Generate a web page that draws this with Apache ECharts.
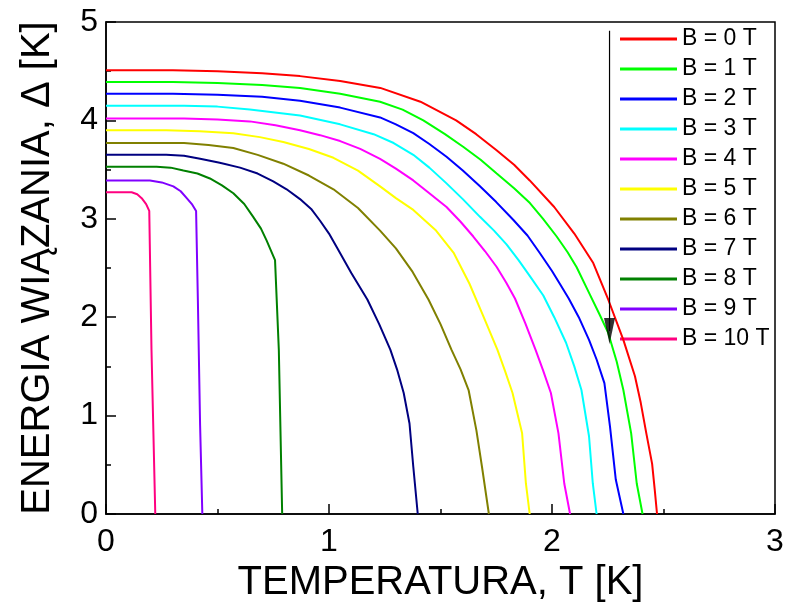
<!DOCTYPE html>
<html>
<head>
<meta charset="utf-8">
<script src="https://cdn.jsdelivr.net/npm/echarts@6/dist/echarts.min.js"></script>
<style>
  html, body { margin: 0; padding: 0; background: #ffffff; }
  #chart { width: 787px; height: 614px; }
</style>
</head>
<body>
<div id="chart"></div>
<script>
// Energy gap Δ(T) [K] versus temperature T [K] for magnetic fields B = 0 … 10 T.
const fieldLabels = ['B = 0 T', 'B = 1 T', 'B = 2 T', 'B = 3 T', 'B = 4 T', 'B = 5 T',
                     'B = 6 T', 'B = 7 T', 'B = 8 T', 'B = 9 T', 'B = 10 T'];
const lineColors = ['#ff0000', '#00ff00', '#0000ff', '#00ffff', '#ff00ff', '#ffff00',
                    '#808000', '#000080', '#008000', '#8000ff', '#ff0080'];

// [T, Δ] pairs for each field
const gapB0 = [[0, 4.51], [0.3, 4.51], [0.5, 4.50], [0.7, 4.48], [0.87, 4.45], [1.05, 4.40],
  [1.23, 4.33], [1.41, 4.19], [1.57, 4.00], [1.66, 3.86], [1.75, 3.70], [1.83, 3.55], [1.90, 3.39],
  [2.01, 3.12], [2.10, 2.85], [2.185, 2.55], [2.252, 2.18], [2.32, 1.77], [2.372, 1.40],
  [2.398, 1.13], [2.423, 0.82], [2.449, 0.51], [2.461, 0.24], [2.471, 0]];
const gapB1 = [[0, 4.39], [0.3, 4.39], [0.5, 4.38], [0.7, 4.36], [0.87, 4.33], [1.05, 4.27],
  [1.229, 4.19], [1.33, 4.11], [1.423, 4.00], [1.52, 3.86], [1.603, 3.73], [1.68, 3.60],
  [1.752, 3.46], [1.83, 3.31], [1.901, 3.16], [1.96, 3.00], [2.021, 2.82], [2.07, 2.66],
  [2.11, 2.51], [2.17, 2.23], [2.215, 2.02], [2.252, 1.84], [2.29, 1.55], [2.32, 1.26],
  [2.355, 0.82], [2.38, 0.31], [2.406, 0]];
const gapB2 = [[0, 4.27], [0.3, 4.27], [0.5, 4.26], [0.7, 4.24], [0.87, 4.20], [1.05, 4.13],
  [1.229, 4.03], [1.30, 3.96], [1.378, 3.87], [1.45, 3.76], [1.527, 3.63], [1.60, 3.49],
  [1.677, 3.33], [1.75, 3.17], [1.826, 2.99], [1.89, 2.83], [1.946, 2.65], [2.0, 2.47],
  [2.035, 2.34], [2.075, 2.19], [2.12, 2.00], [2.166, 1.77], [2.20, 1.57], [2.235, 1.33],
  [2.26, 0.89], [2.286, 0.35], [2.32, 0]];
const gapB3 = [[0, 4.15], [0.35, 4.15], [0.5, 4.14], [0.645, 4.11], [0.87, 4.05], [1.05, 3.96],
  [1.2, 3.86], [1.29, 3.77], [1.378, 3.65], [1.45, 3.52], [1.527, 3.36], [1.60, 3.20],
  [1.677, 3.02], [1.74, 2.88], [1.796, 2.74], [1.85, 2.58], [1.90, 2.42], [1.961, 2.22],
  [2.01, 2.00], [2.063, 1.74], [2.10, 1.50], [2.132, 1.26], [2.166, 0.79], [2.183, 0.31],
  [2.20, 0]];
const gapB4 = [[0, 4.02], [0.35, 4.02], [0.5, 4.01], [0.645, 3.99], [0.76, 3.95], [0.87, 3.90],
  [0.96, 3.85], [1.05, 3.79], [1.14, 3.71], [1.229, 3.61], [1.30, 3.51], [1.378, 3.39],
  [1.45, 3.26], [1.527, 3.12], [1.59, 2.97], [1.647, 2.82], [1.70, 2.67], [1.752, 2.51],
  [1.795, 2.35], [1.834, 2.19], [1.88, 1.94], [1.926, 1.67], [1.96, 1.46], [1.995, 1.23],
  [2.029, 0.82], [2.055, 0.31], [2.081, 0]];
const gapB5 = [[0, 3.90], [0.27, 3.90], [0.42, 3.89], [0.571, 3.87], [0.69, 3.83], [0.795, 3.78],
  [0.91, 3.71], [1.02, 3.62], [1.13, 3.49], [1.229, 3.33], [1.30, 3.21], [1.378, 3.09],
  [1.48, 2.88], [1.56, 2.65], [1.63, 2.34], [1.69, 2.02], [1.755, 1.67], [1.79, 1.45],
  [1.823, 1.23], [1.866, 0.82], [1.883, 0.31], [1.90, 0]];
const gapB6 = [[0, 3.77], [0.35, 3.77], [0.46, 3.75], [0.571, 3.72], [0.68, 3.65], [0.795, 3.56],
  [0.91, 3.44], [1.02, 3.30], [1.13, 3.11], [1.229, 2.88], [1.30, 2.70], [1.375, 2.46],
  [1.446, 2.18], [1.50, 1.93], [1.549, 1.67], [1.59, 1.47], [1.626, 1.26], [1.661, 0.85],
  [1.686, 0.48], [1.717, 0]];
const gapB7 = [[0, 3.65], [0.27, 3.65], [0.35, 3.64], [0.422, 3.61], [0.51, 3.57], [0.601, 3.52],
  [0.68, 3.46], [0.75, 3.38], [0.81, 3.30], [0.87, 3.20], [0.92, 3.10], [0.96, 2.98],
  [1.0, 2.85], [1.035, 2.71], [1.10, 2.45], [1.172, 2.18], [1.225, 1.93], [1.275, 1.67],
  [1.305, 1.47], [1.335, 1.23], [1.361, 0.92], [1.378, 0.48], [1.398, 0]];
const gapB8 = [[0, 3.53], [0.227, 3.53], [0.29, 3.52], [0.347, 3.49], [0.41, 3.46], [0.466, 3.41],
  [0.52, 3.34], [0.571, 3.26], [0.62, 3.15], [0.66, 3.02], [0.695, 2.90], [0.72, 2.78],
  [0.758, 2.58], [0.775, 1.67], [0.79, 0]];
const gapB9 = [[0, 3.39], [0.197, 3.39], [0.25, 3.37], [0.302, 3.33], [0.335, 3.28],
  [0.362, 3.21], [0.385, 3.15], [0.404, 3.08], [0.412, 2.17], [0.422, 0.9], [0.432, 0]];
const gapB10 = [[0, 3.27], [0.115, 3.27], [0.14, 3.25], [0.16, 3.21], [0.18, 3.15],
  [0.194, 3.08], [0.204, 1.67], [0.221, 0]];

const gapSeries = [gapB0, gapB1, gapB2, gapB3, gapB4, gapB5, gapB6, gapB7, gapB8, gapB9, gapB10];

// Arrow showing the direction of increasing field: [T, Δ] of its tail and of the head's centre
const arrowTail = [2.258, 4.91];
const arrowHead = [2.258, 1.86];

const xTicks = [0, 1, 2, 3];
const yTicks = [0, 1, 2, 3, 4, 5];

const FONT = "'Liberation Sans', Arial, sans-serif";

const chart = echarts.init(document.getElementById('chart'), null, { renderer: 'canvas' });

const series = gapSeries.map((pts, i) => ({
  name: fieldLabels[i],
  type: 'line',
  data: pts,
  showSymbol: false,
  smooth: false,
  lineStyle: { color: lineColors[i], width: 2 },
  itemStyle: { color: lineColors[i] },
  z: 3 + (gapSeries.length - i)
}));

// arrow shaft
series.push({
  name: 'arrowShaft',
  type: 'line',
  data: [arrowTail, arrowHead],
  showSymbol: false,
  silent: true,
  lineStyle: { color: '#000000', width: 1.2 },
  z: 20
});
// arrow head
series.push({
  name: 'arrowHead',
  type: 'scatter',
  data: [arrowHead],
  symbol: 'triangle',
  symbolRotate: 180,
  symbolSize: [11, 26],
  silent: true,
  itemStyle: { color: '#000000' },
  z: 21
});

const axisCommon = {
  axisLine: { show: true, lineStyle: { color: '#000000', width: 1.5 } },
  axisTick: { show: true, inside: true, length: 10, lineStyle: { color: '#000000', width: 1.5 } },
  minorTick: { show: true, splitNumber: 2, length: 5, lineStyle: { color: '#000000', width: 1.5 } },
  splitLine: { show: false },
  nameTextStyle: { fontFamily: FONT, fontSize: 40, color: '#000000' }
};

chart.setOption({
  animation: false,
  backgroundColor: '#ffffff',
  grid: {
    left: 106, top: 22, right: 12, bottom: 100,
    show: true, borderColor: '#000000', borderWidth: 1.5, backgroundColor: 'transparent'
  },
  legend: {
    data: fieldLabels,
    orient: 'vertical',
    left: 620,
    top: 24,
    padding: 0,
    icon: 'rect',
    itemWidth: 57,
    itemHeight: 3,
    itemGap: 0,
    textStyle: { fontFamily: FONT, fontSize: 23, color: '#000000', lineHeight: 30 },
    selectedMode: false
  },
  xAxis: Object.assign({}, axisCommon, {
    type: 'value',
    min: xTicks[0],
    max: xTicks[xTicks.length - 1],
    interval: 1,
    name: 'TEMPERATURA, T [K]',
    nameLocation: 'middle',
    nameGap: 48,
    axisLabel: { fontFamily: FONT, fontSize: 32, color: '#000000', margin: 12 }
  }),
  yAxis: Object.assign({}, axisCommon, {
    type: 'value',
    min: yTicks[0],
    max: yTicks[yTicks.length - 1],
    interval: 1,
    name: 'ENERGIA WIĄZANIA, Δ [K]',
    nameLocation: 'middle',
    nameGap: 48,
    axisLabel: { fontFamily: FONT, fontSize: 32, color: '#000000', margin: 8 }
  }),
  series: series
});
</script>
</body>
</html>
